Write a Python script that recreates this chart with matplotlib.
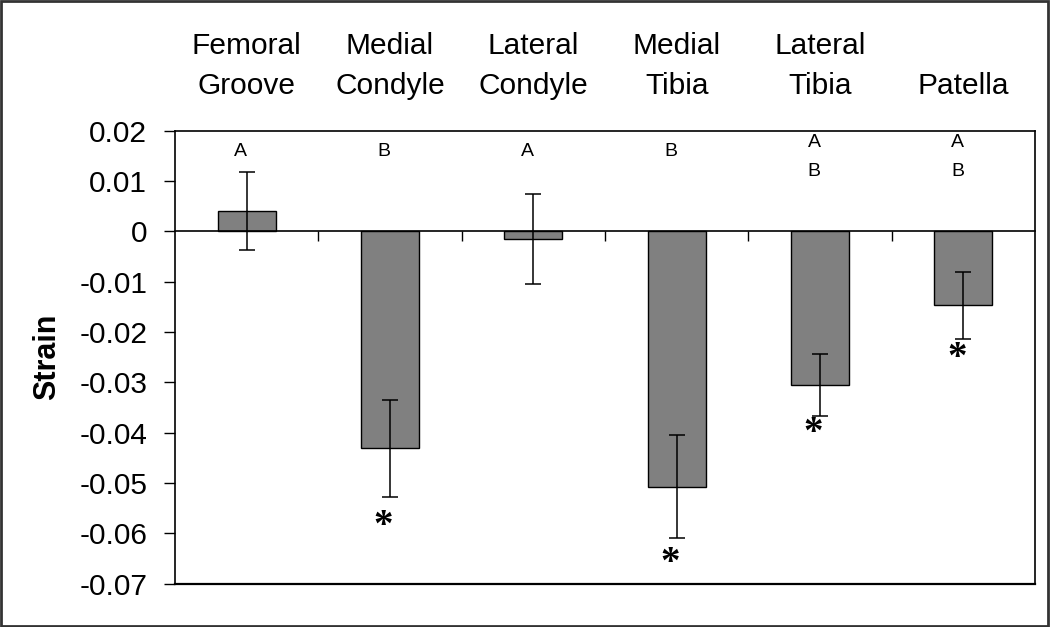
import matplotlib.pyplot as plt
from matplotlib.patches import Rectangle
from matplotlib.ticker import FixedLocator, FuncFormatter

# ------------------------------------------------------------
#  Strain by knee region (mean +/- error), letters = groups,
#  asterisks = significant difference from zero
# ------------------------------------------------------------

regions = ["Femoral\nGroove", "Medial\nCondyle", "Lateral\nCondyle",
           "Medial\nTibia", "Lateral\nTibia", "Patella"]
strain = [0.0040, -0.0431, -0.0015, -0.0507, -0.0305, -0.0147]
strain_err = [0.0077, 0.0096, 0.0089, 0.0102, 0.0062, 0.0066]
groups = ["A", "B", "A", "B", "A\nB", "A\nB"]
signif = [False, True, False, True, True, True]
star_y = [None, -0.0572, None, -0.0646, -0.0388, -0.0239]

yticks = [0.02, 0.01, 0, -0.01, -0.02, -0.03, -0.04, -0.05, -0.06, -0.07]

plt.rcParams["font.family"] = ["Liberation Sans", "DejaVu Sans"]
plt.rcParams["axes.unicode_minus"] = False

fig = plt.figure(figsize=(10.5, 6.27), dpi=100)
ax = fig.add_axes([175 / 1050, 1 - 583.7 / 627, 860 / 1050, 453 / 627])

x = list(range(len(regions)))
ax.bar(x, strain, width=0.405, color="#808080", edgecolor="black",
       linewidth=1.0, zorder=2)
ax.errorbar(x, strain, yerr=strain_err, fmt="none", ecolor="black",
            elinewidth=1.1, capsize=6, capthick=1.1, zorder=3)

ax.set_xlim(-0.5, len(regions) - 0.5)
ax.set_ylim(-0.07, 0.02)

# y axis
ax.yaxis.set_major_locator(FixedLocator(yticks))
ax.yaxis.set_major_formatter(FuncFormatter(lambda v, p: f"{round(v, 3):g}"))
ax.tick_params(axis="y", direction="out", length=8, width=1.0,
               labelsize=21.5, pad=12)

# x axis sits at zero with ticks at the category boundaries
ax.spines["bottom"].set_position(("data", 0))
ax.xaxis.set_major_locator(FixedLocator([i + 0.5 for i in x[:-1]]))
ax.tick_params(axis="x", direction="out", length=7, width=1.0,
               labelbottom=False)
ax.axhline(-0.07, color="black", linewidth=1.6, clip_on=False, zorder=4)
for s in ["left", "right", "top", "bottom"]:
    ax.spines[s].set_linewidth(1.2)

ax.set_ylabel("Strain", fontsize=22, fontweight="bold", labelpad=12)

# category names above the plot
for xi, name in zip(x, regions):
    ax.text(xi, 1.068, name, transform=ax.get_xaxis_transform(),
            ha="center", va="bottom", fontsize=21.5, linespacing=1.55)

# group letters
for xi, g in zip(x, groups):
    ypos = 0.0158 if "\n" not in g else 0.0148
    ax.text(xi - 0.04, ypos, g, ha="center", va="center", fontsize=14,
            linespacing=1.95)

# significance stars
for xi, sig, sy in zip(x, signif, star_y):
    if sig:
        ax.annotate("*", (xi - 0.045, sy), xytext=(0, -5),
                    textcoords="offset points", ha="center", va="center",
                    fontsize=28, fontweight="bold", family="Liberation Serif")

# frame round the whole figure
fig.patches.append(Rectangle((0.001, 0.002), 0.997, 0.996,
                             transform=fig.transFigure, fill=False,
                             edgecolor="#333333", linewidth=2))

fig.savefig("out.png", dpi=100)
